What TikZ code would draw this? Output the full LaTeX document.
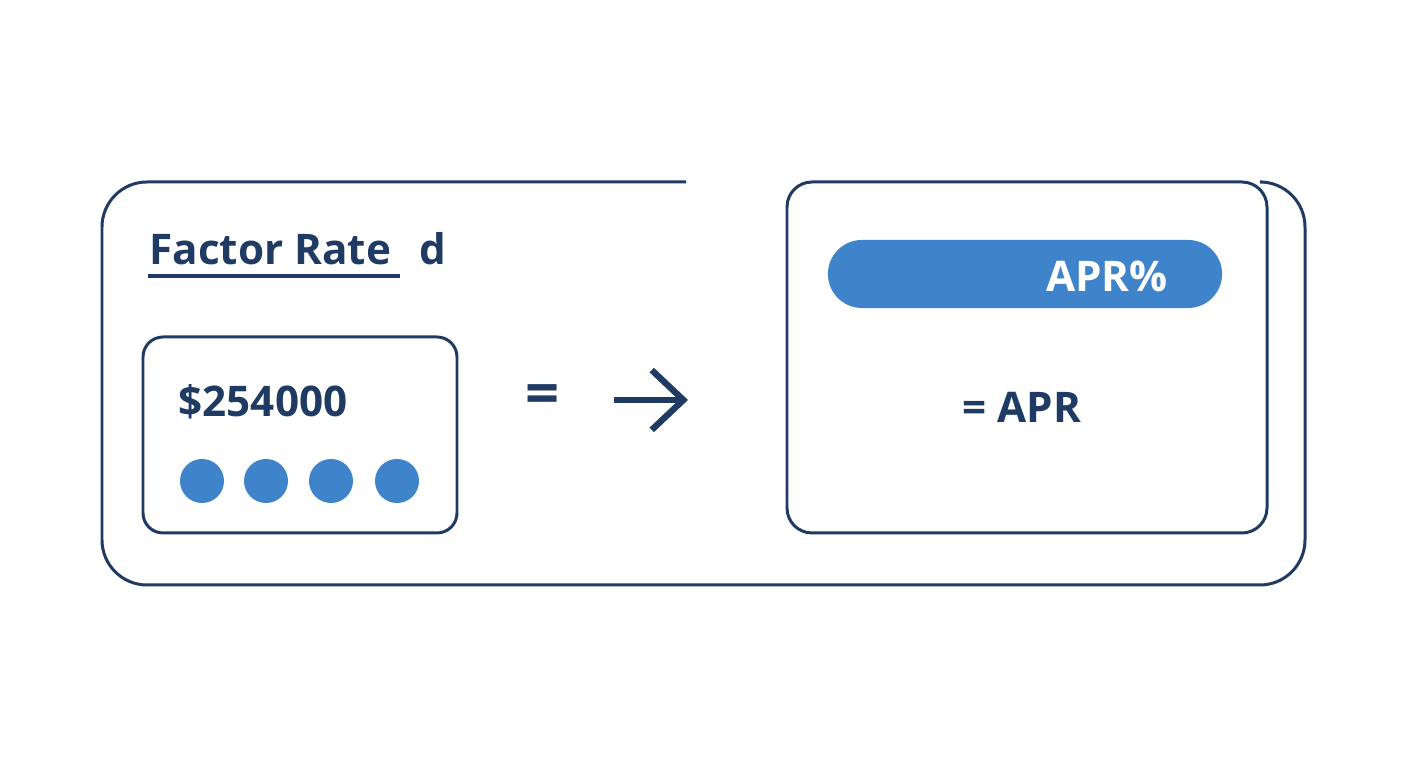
\documentclass[tikz,border=0pt]{standalone}
\usepackage{fontspec}
\setmainfont{Open Sans}
\usetikzlibrary{positioning, arrows.meta}
\definecolor{navy}{HTML}{1F3A63}
\definecolor{apblue}{HTML}{3F84CB}
\tikzset{
every picture/.style={line width=0.85pt, >=stealth},
%%%%%%%%%% Node styles
frame/.style={draw=navy, rounded corners=20pt*0.2845},
dotnode/.style={fill=apblue, circle, minimum size=44*0.2845pt, inner sep=0pt},
label_text/.style={text=navy, font=\fontsize{12}{14}\selectfont\bfseries},
pill/.style={fill=apblue, rounded corners=34*0.2845pt, minimum width=394*0.2845pt,
             minimum height=68*0.2845pt, inner sep=0pt}
}
\begin{document}
\begin{tikzpicture}[x=0.01cm,y=-0.01cm]
\useasboundingbox (0,0) rectangle (1408,768);
%%outer frame, open at the top
\draw[navy, rounded corners=45*0.2845pt] (686,182) -- (102,182) -- (102,585)
	-- (1305,585) -- (1305,182) -- (1262,182);
%%left block
\node[label_text, anchor=base west, inner sep=0pt] (fr) at (148,265) {Factor Rate};
\coordinate (ul1) at (148,276);
\coordinate (ul2) at (400,276);
\draw[navy, line width=1.1pt] (ul1) -- (ul2);
\node[label_text, anchor=base west, inner sep=0pt] (d) at (418,265) {d};
\draw[frame] (143,337) rectangle (457,533);
\node[label_text] (amt) at (263,402) {\$254000};
\foreach \x [count=\i] in {202,266,331,397}
	\node[dotnode] (dot\i) at (\x,481) {};
%%equals and arrow
\node[label_text, font=\fontsize{17}{18}\selectfont\bfseries] (eq) at (543,400) {=};
\coordinate (a1) at (614,400);
\coordinate (a2) at (688,400);
\draw[navy, line width=1.8pt, -{Straight Barb[length=9pt,width=17pt]}] (a1) -- (a2);
%%right block
\draw[navy, rounded corners=25*0.2845pt] (787,182) rectangle (1267,533);
\node[pill] (bar) at (1025,274) {};
\node[text=white, font=\fontsize{12}{14}\selectfont\bfseries] (apr) at (1107,276) {APR\%};
\node[label_text] (res) at (1022,407) {= APR};
\end{tikzpicture}
\end{document}
